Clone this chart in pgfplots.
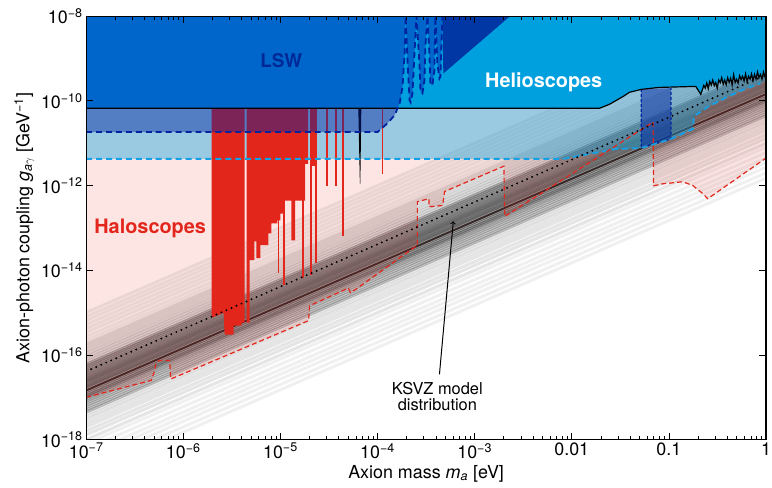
\documentclass[border=0pt]{standalone}
\usepackage{pgfplots}
\pgfplotsset{compat=1.18}
\usepackage{fontspec}
\setmainfont{TeX Gyre Heros}

\definecolor{helio}{RGB}{0,160,223}
\definecolor{lsw}{RGB}{0,102,204}
\definecolor{lswdark}{RGB}{0,55,165}
\definecolor{lswtext}{RGB}{0,40,150}
\definecolor{navy}{RGB}{0,35,160}
\definecolor{halo}{RGB}{227,38,28}
\definecolor{iaxo}{RGB}{20,160,230}
\definecolor{ksvz}{RGB}{55,40,40}

\newcommand{\spike}[2]{\addplot[halo, line width=1.6pt] coordinates {(#1,1e-8) (#1,#2)};}

\pgfplotstableread{
m g
1e-7 6.7e-11
1.93e-2 6.7e-11
2.44e-2 8.3e-11
3.39e-2 1.28e-10
3.91e-2 1.59e-10
5.18e-2 1.87e-10
7.92e-2 2.08e-10
0.189 2.2e-10
0.213 1.43e-10
0.2287 2.32e-10
0.2369 2.00e-10
0.2455 2.66e-10
0.2543 1.94e-10
0.2635 2.88e-10
0.2730 2.35e-10
0.2828 3.11e-10
0.2930 2.28e-10
0.3035 2.72e-10
0.3145 1.99e-10
0.3258 3.11e-10
0.3375 2.68e-10
0.3497 3.55e-10
0.3623 2.46e-10
0.3753 3.10e-10
0.3888 2.40e-10
0.4028 3.54e-10
0.4173 2.74e-10
0.4323 3.44e-10
0.4479 2.39e-10
0.4640 4.15e-10
0.4807 2.73e-10
0.4980 3.25e-10
0.5160 2.65e-10
0.5345 3.93e-10
0.5538 3.20e-10
0.5737 3.82e-10
0.5944 2.95e-10
0.6158 4.36e-10
0.6379 2.87e-10
0.6609 3.81e-10
0.6847 3.28e-10
0.7093 4.35e-10
0.7349 3.02e-10
0.7613 4.23e-10
0.7887 3.27e-10
0.8171 4.83e-10
0.8465 3.54e-10
0.8770 4.22e-10
0.9086 3.26e-10
0.9413 4.82e-10
0.9752 3.73e-10
1.0 4.44e-10
}\helioline

\begin{document}
\begin{tikzpicture}
\begin{axis}[
  name=ax,
  xmode=log, ymode=log,
  xmin=1e-7, xmax=1, ymin=1e-18, ymax=1e-8,
  width=684pt, height=426pt, scale only axis,
  axis on top,
  xtick={1e-7,1e-6,1e-5,1e-4,1e-3,1e-2,1e-1,1},
  xticklabels={10\textsuperscript{−7},10\textsuperscript{−6},10\textsuperscript{−5},10\textsuperscript{−4},10\textsuperscript{−3},0.01,0.1,1},
  minor xtick={2e-7,3e-7,4e-7,5e-7,6e-7,7e-7,8e-7,9e-7,
               2e-6,3e-6,4e-6,5e-6,6e-6,7e-6,8e-6,9e-6,
               2e-5,3e-5,4e-5,5e-5,6e-5,7e-5,8e-5,9e-5,
               2e-4,3e-4,4e-4,5e-4,6e-4,7e-4,8e-4,9e-4,
               2e-3,3e-3,4e-3,5e-3,6e-3,7e-3,8e-3,9e-3,
               2e-2,3e-2,4e-2,5e-2,6e-2,7e-2,8e-2,9e-2,
               0.2,0.3,0.4,0.5,0.6,0.7,0.8,0.9},
  ytick={1e-18,1e-16,1e-14,1e-12,1e-10,1e-8},
  yticklabels={10\textsuperscript{−18},10\textsuperscript{−16},10\textsuperscript{−14},10\textsuperscript{−12},10\textsuperscript{−10},10\textsuperscript{−8}},
  yminorticks=false,
  tick align=inside, tick pos=both,
  major tick length=7pt, minor tick length=4pt,
  every tick/.style={black, line width=0.8pt},
  axis line style={line width=1.1pt},
  ticklabel style={font=\fontsize{18}{20}\selectfont},
  label style={font=\fontsize{18}{22}\selectfont},
  xlabel={Axion mass \textit{m}\textsubscript{\textit{a}} [eV]},
  ylabel={Axion-photon coupling \textit{g}\textsubscript{\textit{a}$\gamma$} [GeV\textsuperscript{−1}]},
]

% KSVZ model distribution (g at m=1e-7 in units of 1e-17)
\pgfplotsinvokeforeach{100,80,65,52,42,34,27,22}{
  \addplot[black, opacity=0.07, line width=3pt] coordinates {(1e-7,#1e-17) (1,#1e-10)};}
\pgfplotsinvokeforeach{18,15,12.5,10.5,9,7.8,6.8}{
  \addplot[black, opacity=0.15, line width=3pt] coordinates {(1e-7,#1e-17) (1,#1e-10)};}
\pgfplotsinvokeforeach{6,5.4,4.9,4.4,4.0,3.6,3.3,3.0}{
  \addplot[black, opacity=0.3, line width=3pt] coordinates {(1e-7,#1e-17) (1,#1e-10)};}
\pgfplotsinvokeforeach{2.75,2.5,2.3,2.1,1.9,1.75,1.6,1.35,1.2,1.08,0.98}{
  \addplot[black, opacity=0.35, line width=3pt] coordinates {(1e-7,#1e-17) (1,#1e-10)};}
\pgfplotsinvokeforeach{0.88,0.8,0.72,0.64,0.57,0.5,0.45}{
  \addplot[black, opacity=0.22, line width=3pt] coordinates {(1e-7,#1e-17) (1,#1e-10)};}
\pgfplotsinvokeforeach{0.4,0.34,0.29,0.24,0.2,0.16,0.13,0.1}{
  \addplot[black, opacity=0.1, line width=3pt] coordinates {(1e-7,#1e-17) (1,#1e-10)};}
\pgfplotsinvokeforeach{0.08,0.06,0.045,0.035,0.027,0.02,0.015}{
  \addplot[black, opacity=0.06, line width=3pt] coordinates {(1e-7,#1e-17) (1,#1e-10)};}
\addplot[ksvz, line width=2pt] coordinates {(1e-7,1.45e-17) (1,1.45e-10)};

% haloscope projection region
\addplot[draw=none, fill=halo, fill opacity=0.12] coordinates {
(1e-7,1e-17) (4.68e-7,2.51e-17) (5.01e-7,3.89e-17) (5.25e-7,6.31e-17) (5.62e-7,7.41e-17)
(7.24e-7,7.41e-17) (7.41e-7,2.69e-17) (1.95e-5,6.46e-16) (2.0e-5,1.45e-15) (5.01e-5,3.80e-15)
(5.25e-5,2.95e-15) (5.89e-5,3.47e-15) (2.57e-4,3.89e-14) (2.57e-4,4.17e-13) (3.39e-4,4.90e-13)
(3.39e-4,3.16e-13) (4.68e-4,3.39e-13) (4.90e-4,7.24e-13) (2.0e-3,2.88e-12) (2.04e-3,1.86e-13)
(6.87e-2,3.16e-11) (6.95e-2,9.9e-13) (8.65e-2,1.10e-12) (0.1387,1.23e-12) (0.1766,1.0e-12)
(0.2234,6.46e-13) (0.251,4.9e-13) (1,4.47e-12) (1,1e-8) (1e-7,1e-8)} -- cycle;

% helioscope projection region
\addplot[draw=none, fill=helio, fill opacity=0.39] coordinates {
(1e-7,4.27e-12) (8.24e-3,4.27e-12) (1.52e-2,5.6e-12) (2.88e-2,7.33e-12) (5.18e-2,7.7e-12)
(0.105,1.26e-11) (0.1766,2.16e-11) (0.181,4.3e-11) (0.257,7.46e-11) (0.412,1.28e-10)
(0.59,1.87e-10) (0.875,2.59e-10) (1,3.2e-10) (1,1e-8) (1e-7,1e-8)} -- cycle;

% haloscope exclusions
\addplot[draw=none, fill=halo] coordinates {
(1.962e-6,1e-8) (1.962e-6,7.57e-16) (2.603e-6,9.93e-16) (2.665e-6,3.03e-16) (3.295e-6,3.03e-16)
(3.295e-6,4.92e-16) (3.979e-6,4.92e-16) (3.979e-6,5.78e-16) (4.272e-6,5.78e-16) (4.272e-6,1e-8)} -- cycle;
\addplot[draw=none, fill=halo] coordinates {
(4.478e-6,1e-8) (4.478e-6,5.78e-16) (4.806e-6,5.78e-16) (4.806e-6,1.73e-14) (5.405e-6,1.73e-14)
(5.405e-6,4.84e-14) (5.665e-6,4.84e-14) (5.665e-6,1.93e-14) (6.226e-6,1.93e-14) (6.226e-6,3.90e-14)
(7.518e-6,3.90e-14) (7.518e-6,7.45e-14) (8.07e-6,7.45e-14) (8.07e-6,1.28e-13) (9.297e-6,1.28e-13)
(9.297e-6,1.50e-13) (9.98e-6,1.50e-13) (9.98e-6,2.19e-13) (1.096e-5,2.19e-13) (1.096e-5,4.43e-13)
(1.293e-5,4.43e-13) (1.293e-5,5.10e-14) (1.42e-5,5.10e-14) (1.42e-5,4.43e-13) (1.798e-5,4.43e-13)
(1.798e-5,3.26e-12) (1.930e-5,3.26e-12) (1.930e-5,1e-8)} -- cycle;
\addplot[draw=none, fill=halo] coordinates {
(2.072e-5,1e-8) (2.072e-5,2.93e-12) (2.386e-5,2.93e-12) (2.386e-5,1e-8)} -- cycle;
\spike{9.52e-6}{8.6e-15}
\spike{1.096e-5}{4.5e-15}
\spike{1.715e-5}{6.56e-15}
\spike{2.072e-5}{7.71e-15}
\spike{2.331e-5}{1.48e-14}
\spike{3.02e-5}{9.95e-13}
\spike{3.73e-5}{9.95e-13}
\spike{4.41e-5}{6.34e-14}
\spike{1.13e-4}{1.9e-12}
\addplot[draw=none, fill=black] coordinates {
(6.34e-5,6.7e-11) (6.81e-5,6.7e-11) (6.65e-5,1.11e-12) (6.58e-5,1.11e-12)} -- cycle;

% LSW projection band
\addplot[draw=none, fill=navy, fill opacity=0.45] coordinates {
(1e-7,1.84e-11) (1.0e-4,1.84e-11) (1.27e-4,2.98e-11) (1.50e-4,4.59e-11) (1.61e-4,6.7e-11)
(1e-7,6.7e-11)} -- cycle;

% helioscope projection box
\addplot[navy, densely dashed, line width=1.2pt, fill=navy, fill opacity=0.5] coordinates {
(5.18e-2,1.9e-10) (5.18e-2,7.7e-12) (0.105,1.26e-11) (0.105,2.0e-10)};

% helioscope exclusion
\addplot[draw=none, fill=helio] table[x=m, y=g] {\helioline} |- (axis cs:1e-7,1e-8) -- cycle;

% LSW exclusion
\addplot[draw=none, fill=lsw] coordinates {
(1e-7,1e-8) (1e-7,6.7e-11) (1.61e-4,6.7e-11) (1.69e-4,8.79e-11) (1.81e-4,2.2e-10)
(1.90e-4,1.31e-9) (1.95e-4,1e-8)
(2.04e-4,7.62e-10) (2.14e-4,1.03e-10) (2.19e-4,9.27e-11) (2.29e-4,1.51e-10) (2.40e-4,1.31e-9) (2.52e-4,1e-8)
(2.70e-4,7.62e-10) (2.77e-4,1.68e-10) (2.90e-4,1.51e-10) (3.04e-4,3.04e-10) (3.11e-4,1.91e-9) (3.27e-4,1e-8)
(3.42e-4,1.31e-9) (3.50e-4,2.59e-10) (3.67e-4,2.32e-10) (3.85e-4,5.21e-10) (3.94e-4,1e-8)
(4.13e-4,7.62e-10) (4.34e-4,3.39e-10) (4.44e-4,3.78e-10) (4.65e-4,1e-8)} -- cycle;
\addplot[draw=none, fill=lswdark] coordinates {
(4.65e-4,1e-8) (4.76e-4,4.44e-10) (2.31e-3,1e-8)} -- cycle;

% boundaries
\addplot[black, line width=1.2pt] table[x=m, y=g] {\helioline};
\addplot[navy, line width=1.8pt, dash pattern=on 6pt off 4pt] coordinates {
(1e-7,1.84e-11) (1.0e-4,1.84e-11) (1.27e-4,2.98e-11) (1.50e-4,4.59e-11) (1.69e-4,8.79e-11)
(1.81e-4,2.2e-10) (1.90e-4,1.31e-9) (1.95e-4,1e-8)
(2.04e-4,7.62e-10) (2.14e-4,1.03e-10) (2.19e-4,9.27e-11) (2.29e-4,1.51e-10) (2.40e-4,1.31e-9) (2.52e-4,1e-8)
(2.70e-4,7.62e-10) (2.77e-4,1.68e-10) (2.90e-4,1.51e-10) (3.04e-4,3.04e-10) (3.11e-4,1.91e-9) (3.27e-4,1e-8)
(3.42e-4,1.31e-9) (3.50e-4,2.59e-10) (3.67e-4,2.32e-10) (3.85e-4,5.21e-10) (3.94e-4,1e-8)
(4.13e-4,7.62e-10) (4.34e-4,3.39e-10) (4.44e-4,3.78e-10) (4.65e-4,1e-8)};
\addplot[iaxo, line width=1.8pt, dash pattern=on 6pt off 4pt] coordinates {
(1e-7,4.27e-12) (8.24e-3,4.27e-12) (1.52e-2,5.6e-12) (2.88e-2,7.33e-12) (5.18e-2,7.7e-12)
(0.105,1.26e-11) (0.1766,2.16e-11) (0.181,4.3e-11) (0.257,7.46e-11) (0.412,1.28e-10)
(0.59,1.87e-10) (0.875,2.59e-10)};
\addplot[halo, line width=1.2pt, dash pattern=on 5pt off 3pt] coordinates {
(1e-7,1e-17) (4.68e-7,2.51e-17) (5.01e-7,3.89e-17) (5.25e-7,6.31e-17) (5.62e-7,7.41e-17)
(7.24e-7,7.41e-17) (7.41e-7,2.69e-17) (1.95e-5,6.46e-16) (2.0e-5,1.45e-15) (5.01e-5,3.80e-15)
(5.25e-5,2.95e-15) (5.89e-5,3.47e-15) (2.57e-4,3.89e-14) (2.57e-4,4.17e-13) (3.39e-4,4.90e-13)
(3.39e-4,3.16e-13) (4.68e-4,3.39e-13) (4.90e-4,7.24e-13) (2.0e-3,2.88e-12) (2.04e-3,1.86e-13)
(6.87e-2,3.16e-11) (6.95e-2,9.9e-13) (8.65e-2,1.10e-12) (0.1387,1.23e-12) (0.1766,1.0e-12)
(0.2234,6.46e-13) (0.251,4.9e-13) (1,4.47e-12)};
\addplot[black, line width=2.2pt, line cap=round, dash pattern=on 0pt off 5.5pt] coordinates {
(1e-7,4.1e-17) (1,4.1e-10)};

% labels
\node[anchor=base, text=lswtext, font=\bfseries\fontsize{19}{22}\selectfont] at (axis cs:1.02e-5,6.14e-10) {LSW};
\node[anchor=base, text=white, font=\bfseries\fontsize{20}{24}\selectfont] at (axis cs:5.14e-3,2.08e-10) {Helioscopes};
\node[anchor=base, text=halo, font=\bfseries\fontsize{20}{24}\selectfont] at (axis cs:4.56e-7,7.45e-14) {Haloscopes};
\node[anchor=base, font=\fontsize{16.5}{20}\selectfont] at (axis cs:4.13e-4,1.19e-17) {KSVZ model};
\node[anchor=base, font=\fontsize{16.5}{20}\selectfont] at (axis cs:4.13e-4,5.0e-18) {distribution};
\draw[->, line width=1pt] (axis cs:4.34e-4,3.49e-17) -- (axis cs:6.03e-4,1.43e-13);
\end{axis}
\pgfresetboundingbox
\path[use as bounding box] ([shift={(-86.7pt,-48pt)}]ax.south west) rectangle ([shift={(6pt,16.3pt)}]ax.north east);
\end{tikzpicture}
\end{document}
